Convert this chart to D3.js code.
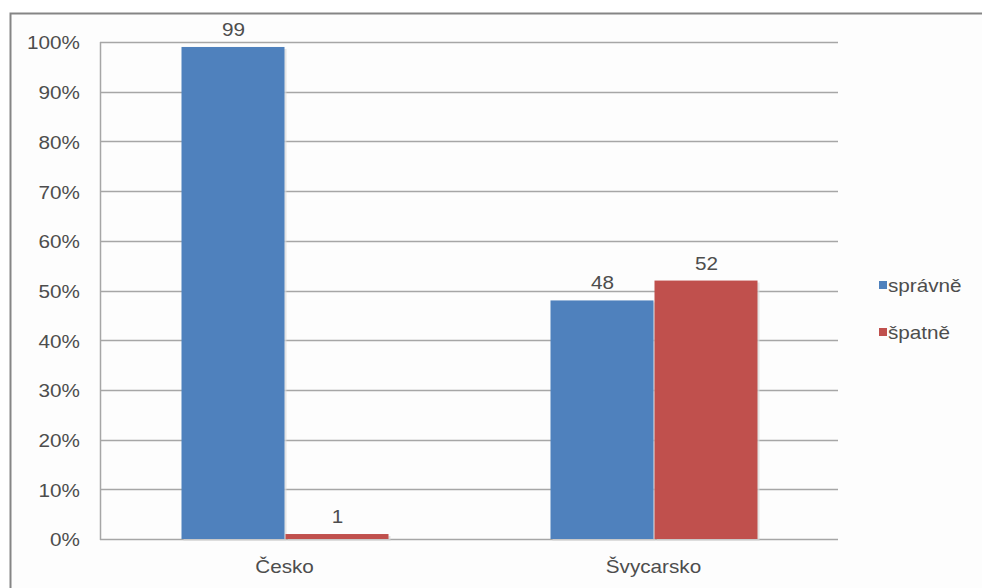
<!DOCTYPE html>
<html>
<head>
<meta charset="utf-8">
<script src="https://cdn.jsdelivr.net/npm/d3@7"></script>
<style>
  html, body { margin: 0; padding: 0; background: #ffffff; }
  svg { display: block; }
  text { font-family: "Liberation Sans", Arial, sans-serif; fill: #4d4d4d; font-size: 18px; }
</style>
</head>
<body>
<svg id="chart" width="982" height="588"></svg>
<script>
// Data
const categories = ["Česko", "Švycarsko"];
const seriesNames = ["správně", "špatně"];
const seriesColors = ["#4F81BD", "#C0504D"];
const spravne = [99, 48];
const spatne = [1, 52];
const yTicks = [0, 10, 20, 30, 40, 50, 60, 70, 80, 90, 100];

const series = [spravne, spatne];

const svg = d3.select("#chart");
const W = 982, H = 588;
const stretch = 1.15; // glyphs are drawn slightly wide

// place a text element at (x, y) with horizontal stretch
function place(sel, fx, fy) {
  return sel.attr("transform", (d, i) => `translate(${fx(d, i)},${fy(d, i)}) scale(${stretch},1)`);
}

// Outer chart frame
svg.append("rect")
  .attr("x", 10.5).attr("y", 13.5)
  .attr("width", W + 20).attr("height", H + 20)
  .attr("fill", "#fdfdfd")
  .attr("stroke", "#858585").attr("stroke-width", 2);

const plot = { left: 100, right: 838, top: 42, bottom: 539 };

const x0 = d3.scaleBand().domain(categories).range([plot.left, plot.right]).paddingInner(0).paddingOuter(0);
const y = d3.scaleLinear().domain([0, 100]).range([plot.bottom, plot.top]);
const barW = 103;

// Gridlines
svg.append("g").selectAll("line").data(yTicks).join("line")
  .attr("x1", plot.left).attr("x2", plot.right)
  .attr("y1", d => Math.round(y(d)) + 0.5).attr("y2", d => Math.round(y(d)) + 0.5)
  .attr("stroke", "#a6a6a6").attr("stroke-width", 1.5);

// Left axis line
svg.append("line")
  .attr("x1", plot.left + 0.5).attr("x2", plot.left + 0.5)
  .attr("y1", plot.top).attr("y2", plot.bottom + 1)
  .attr("stroke", "#a6a6a6").attr("stroke-width", 1.5);

// Y tick labels
place(svg.append("g").selectAll("text").data(yTicks).join("text"),
    () => 80, d => y(d) + 1)
  .attr("dy", "0.36em")
  .attr("text-anchor", "end")
  .text(d => d + "%");

// Bars
const groups = svg.append("g").selectAll("g").data(categories).join("g");
series.forEach((vals, si) => {
  const bx = (c, i) => x0(c) + x0.bandwidth() / 2 - barW + si * (barW + 1);
  // soft shadow
  groups.append("rect")
    .attr("x", (c, i) => bx(c, i) + 2)
    .attr("y", (c, i) => y(vals[i]) + 2)
    .attr("width", barW)
    .attr("height", (c, i) => plot.bottom - y(vals[i]))
    .attr("fill", "#d8d8d8").attr("opacity", 0.7);
  groups.append("rect")
    .attr("x", (c, i) => bx(c, i))
    .attr("y", (c, i) => y(vals[i]))
    .attr("width", barW)
    .attr("height", (c, i) => plot.bottom - y(vals[i]))
    .attr("fill", seriesColors[si]);
  place(groups.append("text"),
      (c, i) => bx(c, i) + barW / 2 + 0.5, (c, i) => y(vals[i]) - 11)
    .attr("text-anchor", "middle")
    .text((c, i) => vals[i]);
});

// Category labels
place(svg.append("g").selectAll("text").data(categories).join("text"),
    c => x0(c) + x0.bandwidth() / 2, () => 573)
  .attr("text-anchor", "middle")
  .text(c => c);

// Legend
const legend = svg.append("g").selectAll("g").data(seriesNames).join("g")
  .attr("transform", (d, i) => `translate(879, ${286 + i * 47})`);
legend.append("rect")
  .attr("x", 0).attr("y", -5).attr("width", 8).attr("height", 8)
  .attr("fill", (d, i) => seriesColors[i]);
place(legend.append("text"), () => 9, () => 0)
  .attr("dy", "0.36em")
  .text(d => d);
</script>
</body>
</html>
